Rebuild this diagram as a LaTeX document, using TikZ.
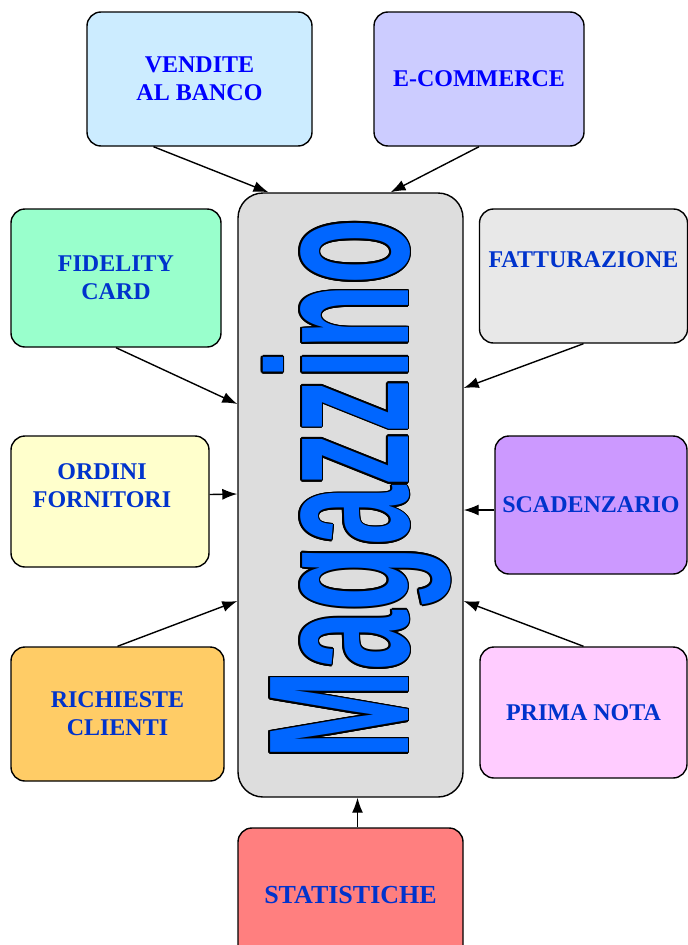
\documentclass[tikz,border=0pt]{standalone}
\usepackage{fontspec}
\setmainfont{Liberation Serif}
\setsansfont{Liberation Sans}
\usepackage{xcolor}
\usepackage{graphicx}
\usetikzlibrary{arrows.meta,positioning,calc}

\definecolor{venditecol}{HTML}{CCECFF}
\definecolor{ecomcol}{HTML}{CCCCFF}
\definecolor{magcol}{HTML}{DDDDDD}
\definecolor{fidcol}{HTML}{99FFCC}
\definecolor{fattcol}{HTML}{E8E8E8}
\definecolor{ordcol}{HTML}{FFFFCC}
\definecolor{scadcol}{HTML}{CC99FF}
\definecolor{richcol}{HTML}{FFCC66}
\definecolor{primacol}{HTML}{FFCCFF}
\definecolor{statcol}{HTML}{FF7F7F}
\definecolor{txtblue}{HTML}{0033CC}
\definecolor{pureblue}{HTML}{0000FF}
\definecolor{magblue}{HTML}{0066FF}

% big title, squeezed like a condensed heavy face
\newcommand{\magword}{\resizebox{540pt}{145pt}{\sffamily\bfseries Magazzino}}

\begin{document}
\begin{tikzpicture}[x=1pt,y=-1pt,
    box/.style={draw=black, line width=1.4pt, rounded corners=14pt, align=center,
        font=\bfseries\fontsize{24}{28}\selectfont, text=txtblue},
    lbl/.style={align=center, font=\bfseries\fontsize{24}{28}\selectfont, text=txtblue},
    magtitle/.style={rotate=90, anchor=base west, inner sep=0pt},
    link/.style={-{Latex[length=15pt,width=11pt]}, line width=1.4pt}]
\useasboundingbox (0,0) rectangle (688,945);

% Central block
\node[box, fill=magcol, rounded corners=25pt, minimum width=225pt, minimum height=604pt] (mag) at (350.5,495) {};
\coordinate (magbase) at (408,760);
% black outline: copies shifted round the base point, then the blue word on top
\foreach \a in {0,30,...,330}
    \node[magtitle, text=black] at ($(magbase)+(\a:1.8)$) {\magword};
\node[magtitle, text=magblue] (magtxt) at (magbase) {\magword};

% Boxes around
\node[box, fill=venditecol, text=pureblue, minimum width=225pt, minimum height=134pt] (vendite) at (199.5,79) {VENDITE\\ AL BANCO};
\node[box, fill=ecomcol, text=pureblue, minimum width=210pt, minimum height=134pt] (ecommerce) at (479,79) {E-COMMERCE};
\node[box, fill=fidcol, minimum width=210pt, minimum height=138pt] (fidelity) at (116,278) {FIDELITY\\CARD};
\node[box, fill=fattcol, minimum width=208pt, minimum height=134pt,
    label={[lbl,yshift=16]center:FATTURAZIONE}] (fatturazione) at (583.5,276) {};
\node[box, fill=ordcol, minimum width=198pt, minimum height=131pt,
    label={[lbl,xshift=-8,yshift=16]center:{ORDINI\\FORNITORI}}] (ordini) at (110,501.5) {};
\node[box, fill=scadcol, minimum width=192pt, minimum height=138pt] (scadenzario) at (591,505) {SCADENZARIO};
\node[box, fill=richcol, minimum width=213pt, minimum height=134pt] (richieste) at (117.5,714) {RICHIESTE\\CLIENTI};
\node[box, fill=primacol, minimum width=207pt, minimum height=131pt] (primanota) at (583.5,712.5) {PRIMA NOTA};
\node[box, fill=statcol, font=\bfseries\fontsize{26}{30}\selectfont, minimum width=225pt, minimum height=134pt] (statistiche) at (350.5,895) {STATISTICHE};

% Arrows into the central block
\draw[link] ([xshift=-46]vendite.south) -- ([xshift=-82]mag.north);
\draw[link] (ecommerce.south) -- ([xshift=40]mag.north);
\draw[link] (fidelity.south) -- ([yshift=91]mag.west);
\draw[link] (fatturazione.south) -- ([yshift=107]mag.east);
\draw[link] ([yshift=7]ordini.east) -- ([yshift=1]mag.west);
\draw[link] ([yshift=-5]scadenzario.west) -- ([yshift=-15]mag.east);
\draw[link] (richieste.north) -- ([yshift=-106]mag.west);
\draw[link] (primanota.north) -- ([yshift=-106]mag.east);
\draw[link] ([xshift=7]statistiche.north) -- ([xshift=7]mag.south);

\end{tikzpicture}
\end{document}
